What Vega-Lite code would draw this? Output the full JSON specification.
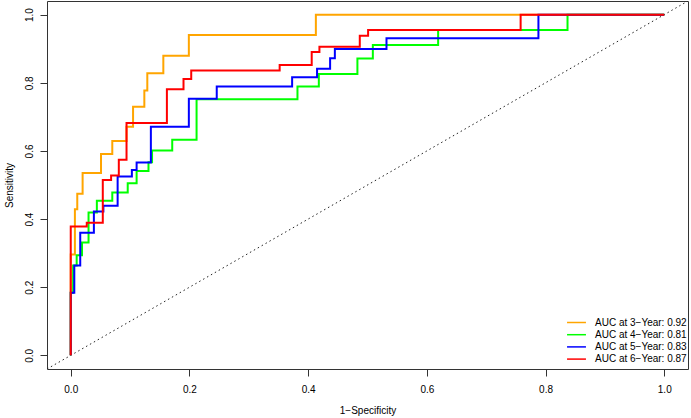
{
  "$schema": "https://vega.github.io/schema/vega-lite/v6.json",
  "autosize": {"type": "none"},
  "padding": {"left": 47, "top": 1, "right": 3, "bottom": 49},
  "width": 641,
  "height": 368,
  "background": "white",
  "config": {
    "font": "Liberation Sans",
    "view": {"stroke": "#333333", "strokeWidth": 1},
    "axis": {
      "grid": false,
      "domain": false,
      "ticks": true,
      "tickColor": "#333333",
      "tickSize": 7,
      "tickWidth": 1,
      "labelFont": "Liberation Sans",
      "labelFontSize": 10,
      "labelColor": "black",
      "titleFont": "Liberation Sans",
      "titleFontSize": 10,
      "titleFontWeight": "normal",
      "titleColor": "black"
    }
  },
  "datasets": {
    "roc": [
      {"curve": "AUC at 3−Year: 0.92", "step": 0, "fpr": 0, "tpr": 0},
      {"curve": "AUC at 3−Year: 0.92", "step": 1, "fpr": 0, "tpr": 0.296},
      {"curve": "AUC at 3−Year: 0.92", "step": 2, "fpr": 0.007, "tpr": 0.429},
      {"curve": "AUC at 3−Year: 0.92", "step": 3, "fpr": 0.011, "tpr": 0.474},
      {"curve": "AUC at 3−Year: 0.92", "step": 4, "fpr": 0.020, "tpr": 0.535},
      {"curve": "AUC at 3−Year: 0.92", "step": 5, "fpr": 0.051, "tpr": 0.591},
      {"curve": "AUC at 3−Year: 0.92", "step": 6, "fpr": 0.070, "tpr": 0.629},
      {"curve": "AUC at 3−Year: 0.92", "step": 7, "fpr": 0.094, "tpr": 0.671},
      {"curve": "AUC at 3−Year: 0.92", "step": 8, "fpr": 0.105, "tpr": 0.730},
      {"curve": "AUC at 3−Year: 0.92", "step": 9, "fpr": 0.124, "tpr": 0.777},
      {"curve": "AUC at 3−Year: 0.92", "step": 10, "fpr": 0.129, "tpr": 0.828},
      {"curve": "AUC at 3−Year: 0.92", "step": 11, "fpr": 0.156, "tpr": 0.879},
      {"curve": "AUC at 3−Year: 0.92", "step": 12, "fpr": 0.199, "tpr": 0.940},
      {"curve": "AUC at 3−Year: 0.92", "step": 13, "fpr": 0.413, "tpr": 1},
      {"curve": "AUC at 3−Year: 0.92", "step": 14, "fpr": 1, "tpr": 1},

      {"curve": "AUC at 4−Year: 0.81", "step": 0, "fpr": 0, "tpr": 0},
      {"curve": "AUC at 4−Year: 0.81", "step": 1, "fpr": 0, "tpr": 0.184},
      {"curve": "AUC at 4−Year: 0.81", "step": 2, "fpr": 0.004, "tpr": 0.264},
      {"curve": "AUC at 4−Year: 0.81", "step": 3, "fpr": 0.010, "tpr": 0.294},
      {"curve": "AUC at 4−Year: 0.81", "step": 4, "fpr": 0.019, "tpr": 0.331},
      {"curve": "AUC at 4−Year: 0.81", "step": 5, "fpr": 0.030, "tpr": 0.419},
      {"curve": "AUC at 4−Year: 0.81", "step": 6, "fpr": 0.044, "tpr": 0.454},
      {"curve": "AUC at 4−Year: 0.81", "step": 7, "fpr": 0.070, "tpr": 0.478},
      {"curve": "AUC at 4−Year: 0.81", "step": 8, "fpr": 0.096, "tpr": 0.505},
      {"curve": "AUC at 4−Year: 0.81", "step": 9, "fpr": 0.111, "tpr": 0.541},
      {"curve": "AUC at 4−Year: 0.81", "step": 10, "fpr": 0.131, "tpr": 0.567},
      {"curve": "AUC at 4−Year: 0.81", "step": 11, "fpr": 0.137, "tpr": 0.601},
      {"curve": "AUC at 4−Year: 0.81", "step": 12, "fpr": 0.171, "tpr": 0.633},
      {"curve": "AUC at 4−Year: 0.81", "step": 13, "fpr": 0.212, "tpr": 0.752},
      {"curve": "AUC at 4−Year: 0.81", "step": 14, "fpr": 0.382, "tpr": 0.789},
      {"curve": "AUC at 4−Year: 0.81", "step": 15, "fpr": 0.418, "tpr": 0.826},
      {"curve": "AUC at 4−Year: 0.81", "step": 16, "fpr": 0.483, "tpr": 0.871},
      {"curve": "AUC at 4−Year: 0.81", "step": 17, "fpr": 0.509, "tpr": 0.911},
      {"curve": "AUC at 4−Year: 0.81", "step": 18, "fpr": 0.619, "tpr": 0.955},
      {"curve": "AUC at 4−Year: 0.81", "step": 19, "fpr": 0.837, "tpr": 1},
      {"curve": "AUC at 4−Year: 0.81", "step": 20, "fpr": 1, "tpr": 1},

      {"curve": "AUC at 5−Year: 0.83", "step": 0, "fpr": 0, "tpr": 0},
      {"curve": "AUC at 5−Year: 0.83", "step": 1, "fpr": 0, "tpr": 0.184},
      {"curve": "AUC at 5−Year: 0.83", "step": 2, "fpr": 0.006, "tpr": 0.264},
      {"curve": "AUC at 5−Year: 0.83", "step": 3, "fpr": 0.016, "tpr": 0.360},
      {"curve": "AUC at 5−Year: 0.83", "step": 4, "fpr": 0.039, "tpr": 0.422},
      {"curve": "AUC at 5−Year: 0.83", "step": 5, "fpr": 0.055, "tpr": 0.439},
      {"curve": "AUC at 5−Year: 0.83", "step": 6, "fpr": 0.079, "tpr": 0.525},
      {"curve": "AUC at 5−Year: 0.83", "step": 7, "fpr": 0.103, "tpr": 0.544},
      {"curve": "AUC at 5−Year: 0.83", "step": 8, "fpr": 0.111, "tpr": 0.566},
      {"curve": "AUC at 5−Year: 0.83", "step": 9, "fpr": 0.135, "tpr": 0.671},
      {"curve": "AUC at 5−Year: 0.83", "step": 10, "fpr": 0.199, "tpr": 0.753},
      {"curve": "AUC at 5−Year: 0.83", "step": 11, "fpr": 0.246, "tpr": 0.789},
      {"curve": "AUC at 5−Year: 0.83", "step": 12, "fpr": 0.373, "tpr": 0.816},
      {"curve": "AUC at 5−Year: 0.83", "step": 13, "fpr": 0.415, "tpr": 0.841},
      {"curve": "AUC at 5−Year: 0.83", "step": 14, "fpr": 0.437, "tpr": 0.872},
      {"curve": "AUC at 5−Year: 0.83", "step": 15, "fpr": 0.445, "tpr": 0.899},
      {"curve": "AUC at 5−Year: 0.83", "step": 16, "fpr": 0.532, "tpr": 0.931},
      {"curve": "AUC at 5−Year: 0.83", "step": 17, "fpr": 0.788, "tpr": 1},
      {"curve": "AUC at 5−Year: 0.83", "step": 18, "fpr": 1, "tpr": 1},

      {"curve": "AUC at 6−Year: 0.87", "step": 0, "fpr": 0, "tpr": 0},
      {"curve": "AUC at 6−Year: 0.87", "step": 1, "fpr": 0, "tpr": 0.378},
      {"curve": "AUC at 6−Year: 0.87", "step": 2, "fpr": 0.027, "tpr": 0.389},
      {"curve": "AUC at 6−Year: 0.87", "step": 3, "fpr": 0.054, "tpr": 0.515},
      {"curve": "AUC at 6−Year: 0.87", "step": 4, "fpr": 0.068, "tpr": 0.528},
      {"curve": "AUC at 6−Year: 0.87", "step": 5, "fpr": 0.081, "tpr": 0.574},
      {"curve": "AUC at 6−Year: 0.87", "step": 6, "fpr": 0.094, "tpr": 0.682},
      {"curve": "AUC at 6−Year: 0.87", "step": 7, "fpr": 0.162, "tpr": 0.781},
      {"curve": "AUC at 6−Year: 0.87", "step": 8, "fpr": 0.190, "tpr": 0.811},
      {"curve": "AUC at 6−Year: 0.87", "step": 9, "fpr": 0.203, "tpr": 0.836},
      {"curve": "AUC at 6−Year: 0.87", "step": 10, "fpr": 0.352, "tpr": 0.852},
      {"curve": "AUC at 6−Year: 0.87", "step": 11, "fpr": 0.406, "tpr": 0.890},
      {"curve": "AUC at 6−Year: 0.87", "step": 12, "fpr": 0.419, "tpr": 0.906},
      {"curve": "AUC at 6−Year: 0.87", "step": 13, "fpr": 0.487, "tpr": 0.938},
      {"curve": "AUC at 6−Year: 0.87", "step": 14, "fpr": 0.501, "tpr": 0.955},
      {"curve": "AUC at 6−Year: 0.87", "step": 15, "fpr": 0.758, "tpr": 1},
      {"curve": "AUC at 6−Year: 0.87", "step": 16, "fpr": 1, "tpr": 1}
    ],
    "reference": [
      {"fpr": -0.04, "tpr": -0.04},
      {"fpr": 1.04, "tpr": 1.04}
    ]
  },
  "layer": [
    {
      "data": {"name": "reference"},
      "mark": {"type": "line", "color": "#222222", "strokeWidth": 1, "strokeDash": [1.5, 3], "clip": true},
      "encoding": {
        "x": {"field": "fpr", "type": "quantitative"},
        "y": {"field": "tpr", "type": "quantitative"}
      }
    },
    {
      "data": {"name": "roc"},
      "mark": {"type": "line", "interpolate": "step-after", "strokeWidth": 2, "clip": true},
      "encoding": {
        "x": {
          "field": "fpr",
          "type": "quantitative",
          "scale": {"domain": [-0.04, 1.04], "nice": false, "zero": false},
          "axis": {
            "title": "1−Specificity",
            "values": [0, 0.2, 0.4, 0.6, 0.8, 1],
            "format": ".1f",
            "labelPadding": 8,
            "titlePadding": 11
          }
        },
        "y": {
          "field": "tpr",
          "type": "quantitative",
          "scale": {"domain": [-0.04, 1.04], "nice": false, "zero": false},
          "axis": {
            "title": "Sensitivity",
            "values": [0, 0.2, 0.4, 0.6, 0.8, 1],
            "format": ".1f",
            "labelAngle": -90,
            "labelAlign": "center",
            "labelBaseline": "bottom",
            "labelPadding": 6,
            "titlePadding": 10
          }
        },
        "order": {"field": "step", "type": "quantitative"},
        "color": {
          "field": "curve",
          "type": "nominal",
          "scale": {
            "domain": ["AUC at 3−Year: 0.92", "AUC at 4−Year: 0.81", "AUC at 5−Year: 0.83", "AUC at 6−Year: 0.87"],
            "range": ["#FFA500", "#00FF00", "#0000FF", "#FF0000"]
          },
          "legend": {
            "title": null,
            "orient": "none",
            "legendX": 524,
            "legendY": 316,
            "padding": 0,
            "symbolType": "M-2.1,0H2.1",
            "symbolSize": 81,
            "symbolStrokeWidth": 1.5,
            "symbolFillColor": "transparent",
            "labelFont": "Liberation Sans",
            "labelFontSize": 10,
            "labelColor": "black",
            "labelOffset": 13,
            "rowPadding": 1.2
          }
        }
      }
    }
  ]
}
